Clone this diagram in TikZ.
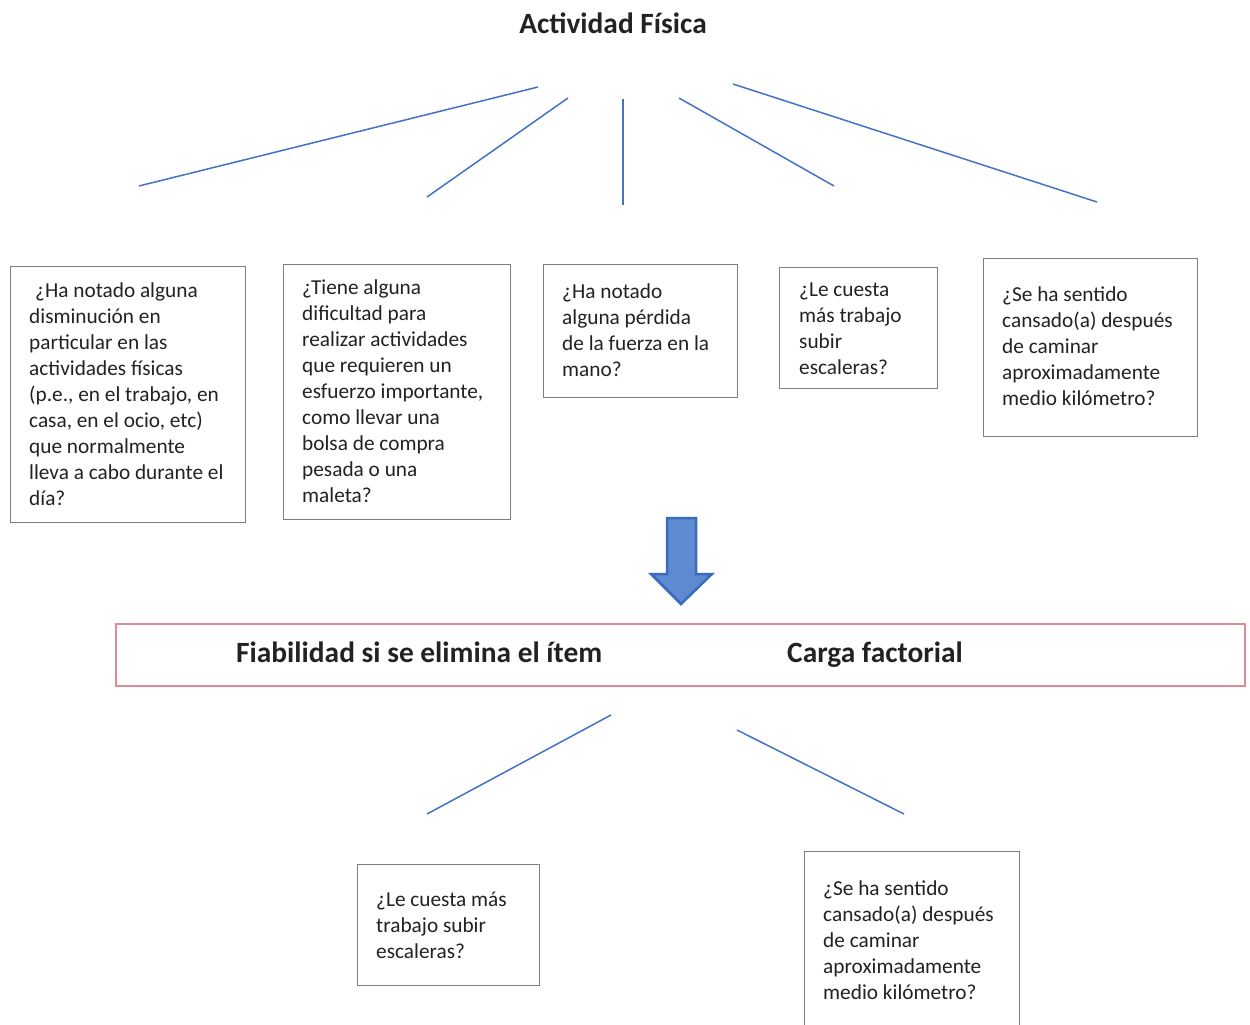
\documentclass[tikz,border=0pt]{standalone}
\usepackage{fontspec}
\setmainfont{Carlito}
\definecolor{linkblue}{HTML}{4472C4}
\definecolor{boxgray}{HTML}{7F7F7F}
\definecolor{bandpink}{HTML}{E08A98}
\definecolor{arrowfill}{HTML}{5E8AD0}
\definecolor{arrowedge}{HTML}{3A6BC0}
\definecolor{ink}{HTML}{222222}
\tikzset{
  link/.style={draw=linkblue, line width=1.5pt},
  qbox/.style={draw=boxgray, line width=0.9pt, anchor=north west, inner sep=0pt},
  % multi-line text: the base anchor sits on the last line's baseline
  qtext/.style={anchor=base west, align=left, inner sep=0pt, text=ink,
    font=\fontsize{21.3pt}{26pt}\selectfont},
  headtext/.style={inner sep=0pt, text=ink, font=\fontsize{29.4pt}{34pt}\selectfont\bfseries},
}
\begin{document}
\begin{tikzpicture}[x=1pt, y=-1pt]
\useasboundingbox (0,0) rectangle (1250,1025);
\begin{scope}
\clip (0,0) rectangle (1250,1025);

% title
\node[headtext] (title) at (613,23) {Actividad Física};

% fan of connectors below the title
\coordinate (a1) at (538,87);  \coordinate (e1) at (139,186);
\coordinate (a2) at (568,98);  \coordinate (e2) at (427,197);
\coordinate (a3) at (623,99);  \coordinate (e3) at (623,205);
\coordinate (a4) at (679,98);  \coordinate (e4) at (834,186);
\coordinate (a5) at (733,84);  \coordinate (e5) at (1097,202);
\foreach \i in {1,...,5} \draw[link] (a\i) -- (e\i);

% question boxes, upper row
\node[qbox, minimum width=235pt, minimum height=256pt] (b1) at (10,266) {};
\node[qtext] (t1) at (29,505) {\hspace*{6pt}¿Ha notado alguna\\disminución en\\particular en las\\actividades físicas\\(p.e., en el trabajo, en\\casa, en el ocio, etc)\\que normalmente\\lleva a cabo durante el\\día?};

\node[qbox, minimum width=227pt, minimum height=255pt] (b2) at (283,264) {};
\node[qtext] (t2) at (302,502) {¿Tiene alguna\\dificultad para\\realizar actividades\\que requieren un\\esfuerzo importante,\\como llevar una\\bolsa de compra\\pesada o una\\maleta?};

\node[qbox, minimum width=194pt, minimum height=133pt] (b3) at (543,264) {};
\node[qtext] (t3) at (562,376) {¿Ha notado\\alguna pérdida\\de la fuerza en la\\mano?};

\node[qbox, minimum width=158pt, minimum height=121pt] (b4) at (779,267) {};
\node[qtext] (t4) at (799,374) {¿Le cuesta\\más trabajo\\subir\\escaleras?};

\node[qbox, minimum width=214pt, minimum height=178pt] (b5) at (983,258) {};
\node[qtext] (t5) at (1002,405) {¿Se ha sentido\\cansado(a) después\\de caminar\\aproximadamente\\medio kilómetro?};

% block arrow
\draw[fill=arrowfill, draw=arrowedge, line width=2.5pt, line join=miter]
  (667,518) -- (696,518) -- (696,574) -- (712,574) -- (681,604)
  -- (651,574) -- (667,574) -- cycle;

% result band
\node[draw=bandpink, line width=2pt, anchor=north west, inner sep=0pt,
  minimum width=1129pt, minimum height=62pt] (band) at (115,623) {};
\node[headtext, anchor=base west] (fi) at (236,662) {Fiabilidad si se elimina el ítem};
\node[headtext, anchor=base west] (cf) at (787,662) {Carga factorial};

% connectors below the band
\coordinate (a6) at (611,715); \coordinate (e6) at (427,814);
\coordinate (a7) at (737,730); \coordinate (e7) at (904,814);
\draw[link] (a6) -- (e6);
\draw[link] (a7) -- (e7);

% question boxes, lower row
\node[qbox, minimum width=182pt, minimum height=121pt] (b6) at (357,864) {};
\node[qtext] (t6) at (376,958) {¿Le cuesta más\\trabajo subir\\escaleras?};

\node[qbox, minimum width=215pt, minimum height=200pt] (b7) at (804,851) {};
\node[qtext] (t7) at (823,999) {¿Se ha sentido\\cansado(a) después\\de caminar\\aproximadamente\\medio kilómetro?};
\end{scope}
\end{tikzpicture}
\end{document}
